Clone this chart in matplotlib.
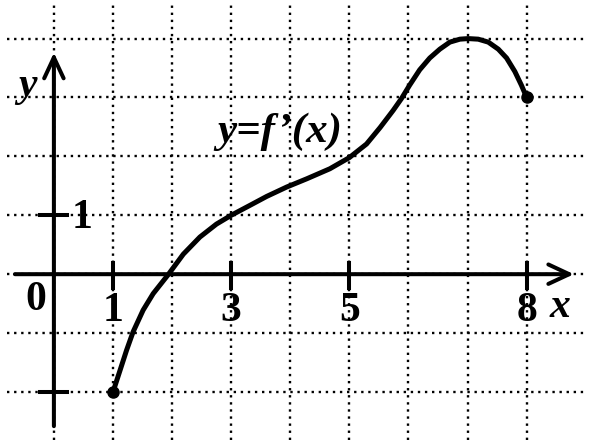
import matplotlib
matplotlib.use("Agg")
import matplotlib.pyplot as plt
import numpy as np

# values
curve_x = [1.0, 1.12, 1.23, 1.34, 1.51, 1.68, 1.94, 2.19, 2.47, 2.75, 3.0, 3.32, 3.6, 3.94,
           4.28, 4.67, 5.0, 5.29, 5.52, 5.74, 5.88, 6.02, 6.19, 6.36, 6.53, 6.7, 6.87,
           7.01, 7.18, 7.35, 7.52, 7.66, 7.8, 7.91, 8.0]
curve_y = [-2.0, -1.63, -1.29, -0.98, -0.61, -0.33, 0.0, 0.34, 0.63, 0.85, 1.0, 1.17, 1.32, 1.48,
           1.62, 1.79, 1.98, 2.21, 2.49, 2.78, 2.98, 3.21, 3.47, 3.67, 3.82, 3.94, 3.99,
           4.0, 3.99, 3.94, 3.82, 3.67, 3.44, 3.21, 3.0]
end_x = [1, 8]
end_y = [-2, 3]
grid_x = [0, 1, 2, 3, 4, 5, 6, 7, 8]
grid_y = [-2, -1, 0, 1, 2, 3, 4]
xticks = [1, 3, 5, 8]
yticks = [1, -2]
ytick_labels = ["1", ""]

serif = ["Liberation Serif", "DejaVu Serif"]

fig = plt.figure(figsize=(6.08, 4.46), dpi=100)
ax = fig.add_axes([0, 0, 1, 1])
ax.set_xlim(-0.912, 9.376)
ax.set_ylim(-2.917, 4.655)
ax.axis("off")

# dotted grid
dots = (0, (1, 2))
ax.vlines(grid_x, -2.81, 4.6, colors="black", linestyles=dots, linewidth=1.7)
ax.hlines(grid_y, -0.80, 8.98, colors="black", linestyles=dots, linewidth=1.7)

# axes with arrows
arrow = dict(arrowstyle="->,head_length=1.5,head_width=0.7", lw=2.9,
             color="black", shrinkA=0, shrinkB=0)
ax.annotate("", xy=(8.80, 0), xytext=(-0.66, 0), arrowprops=arrow)
ax.annotate("", xy=(0, 3.76), xytext=(0, -2.58), arrowprops=arrow)

# tick marks and labels
for t in xticks:
    ax.plot([t, t], [-0.24, 0.19], color="black", lw=2.9)
    ax.text(t, -0.62, str(t), ha="center", va="center", fontsize=30,
            family=serif, weight="bold")
for t, lab in zip(yticks, ytick_labels):
    ax.plot([-0.24, 0.22], [t, t], color="black", lw=2.9)
    if lab:
        ax.text(0.48, t - 0.05, lab, ha="center", va="center", fontsize=30,
                family=serif, weight="bold")

ax.text(-0.31, -0.43, "0", ha="center", va="center", fontsize=30, family=serif, weight="bold")
ax.text(8.56, -0.55, "x", ha="center", va="center", fontsize=30, family=serif,
        style="italic", weight="bold")
ax.text(-0.45, 3.2, "y", ha="center", va="center", fontsize=30, family=serif,
        style="italic", weight="bold")

# the curve
ax.plot(curve_x, curve_y, color="black", lw=3.6, solid_capstyle="round", solid_joinstyle="round")
ax.plot(end_x, end_y, "o", color="black", ms=8)

ax.text(3.83, 2.42, "y=f\u2019(x)", ha="center", va="center", fontsize=31, family=serif,
        style="italic", weight="bold")

fig.savefig("out.png", dpi=100)
